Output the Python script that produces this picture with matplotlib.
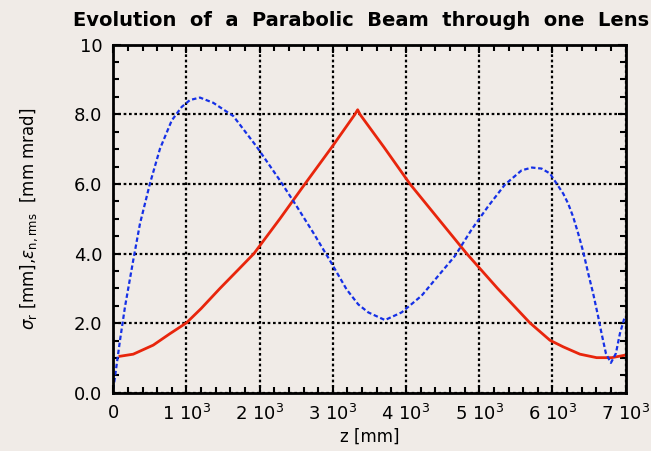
import matplotlib
matplotlib.use("Agg")
import matplotlib.pyplot as plt
from matplotlib.ticker import MultipleLocator, FixedLocator, FixedFormatter

# ---- data ----
red_z = [92, 273, 546, 775, 1000, 1200, 1458, 1700, 1922, 2277, 2619, 2984, 3302, 3339,
         3370, 3700, 4053, 4440, 4828, 5250, 5692, 5966, 6148, 6376, 6604, 6809, 6990]
red_y = [1.05, 1.11, 1.37, 1.70, 2.01, 2.42, 3.00, 3.52, 4.00, 5.00, 6.00, 7.05, 8.00, 8.13,
         8.00, 7.05, 6.00, 5.00, 4.00, 3.00, 2.01, 1.51, 1.32, 1.11, 1.01, 1.01, 1.08]

blue_z = [0, 92, 160, 273, 365, 501, 638, 798, 934, 1048, 1184, 1366, 1640, 1959, 2277,
          2505, 2732, 2960, 3188, 3347, 3484, 3712, 3940, 4213, 4440, 4668, 4896, 5123,
          5351, 5579, 5720, 5852, 5966, 6057, 6148, 6216, 6284, 6353, 6421, 6489, 6557,
          6626, 6672, 6731, 6799, 6867, 6922, 6981]
blue_y = [0.1, 1.51, 2.47, 3.81, 4.86, 6.01, 7.01, 7.82, 8.21, 8.41, 8.48, 8.33, 7.95, 7.07,
          6.10, 5.36, 4.60, 3.80, 2.97, 2.54, 2.31, 2.09, 2.31, 2.79, 3.36, 3.93, 4.69, 5.36,
          5.98, 6.39, 6.47, 6.44, 6.30, 6.01, 5.72, 5.43, 5.05, 4.57, 4.05, 3.43, 2.85,
          2.18, 1.70, 1.13, 0.86, 1.13, 1.70, 2.13]

x_ticks = [0, 1000, 2000, 3000, 4000, 5000, 6000, 7000]
x_labels = ["0", r"1 10$^{3}$", r"2 10$^{3}$", r"3 10$^{3}$", r"4 10$^{3}$",
            r"5 10$^{3}$", r"6 10$^{3}$", r"7 10$^{3}$"]
y_ticks = [0, 2, 4, 6, 8, 10]
y_labels = ["0.0", "2.0", "4.0", "6.0", "8.0", "10"]

title = "Evolution  of  a  Parabolic  Beam  through  one  Lens"
xlabel = "z [mm]"
ylabel = r"$\sigma_{\mathrm{r}}$ [mm],$\varepsilon_{\mathrm{n,rms}}$  [mm mrad]"

bg = "#f0ebe7"
plt.rcParams["font.family"] = ["DejaVu Sans"]
plt.rcParams["mathtext.fontset"] = "dejavusans"

fig = plt.figure(figsize=(6.51, 4.51), dpi=100, facecolor=bg)
ax = fig.add_axes([0.174, 0.129, 0.787, 0.772], facecolor=bg)

ax.plot(red_z, red_y, color="#e8250c", lw=2.0, zorder=3)
ax.plot(blue_z, blue_y, color="#1530e6", lw=1.6, linestyle=(0, (2.0, 1.2)), zorder=3)

ax.set_xlim(0, 7000)
ax.set_ylim(0, 10)

ax.xaxis.set_major_locator(FixedLocator(x_ticks))
ax.xaxis.set_major_formatter(FixedFormatter(x_labels))
ax.xaxis.set_minor_locator(MultipleLocator(200))
ax.yaxis.set_major_locator(FixedLocator(y_ticks))
ax.yaxis.set_major_formatter(FixedFormatter(y_labels))
ax.yaxis.set_minor_locator(MultipleLocator(0.5))

ax.tick_params(which="both", direction="in", top=True, right=True, color="black")
ax.tick_params(which="major", length=6, width=1.5, labelsize=13, pad=8)
ax.tick_params(which="minor", length=4, width=1.5)

ax.grid(True, which="major", color="black", linestyle=(0, (1.2, 1.2)), lw=1.6, zorder=1)
for s in ax.spines.values():
    s.set_linewidth(2.0)
    s.set_zorder(4)

ax.set_xlabel(xlabel, fontsize=12, labelpad=3)
ax.set_ylabel(ylabel, fontsize=12, labelpad=24)
fig.text(0.555, 0.955, title, ha="center", va="center", fontsize=14, fontweight="bold")

fig.savefig("out.png", dpi=100, facecolor=bg)
